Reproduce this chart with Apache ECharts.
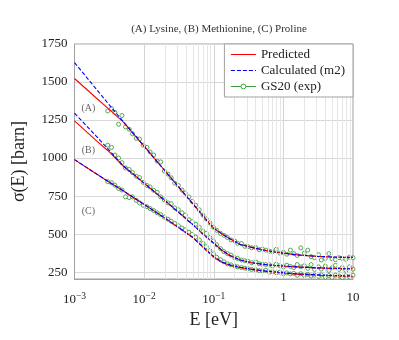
<!DOCTYPE html>
<html><head><meta charset="utf-8">
<script src="https://cdn.jsdelivr.net/npm/echarts@6/dist/echarts.min.js"></script>
<style>html,body{margin:0;padding:0;background:#fff}#c{width:399px;height:340px}</style>
</head><body><div id="c"></div>
<script>
const titleText = '(A) Lysine, (B) Methionine, (C) Proline';
const legendNames = ['Predicted', 'Calculated (m2)', 'GS20 (exp)'];
const curveLabels = ['(A)', '(B)', '(C)'];
const curveLabelPos = [[0.00158, 1328], [0.00158, 1048], [0.00158, 650]];
const yTicks = [250, 500, 750, 1000, 1250, 1500, 1750];
const xTicks = [0.001, 0.01, 0.1, 1, 10];
const xTickLabels = ['10{sup|−3}', '10{sup|−2}', '10{sup|−1}', '1', '10'];
const minorGrid = [0.002,0.003,0.004,0.005,0.006,0.007,0.008,0.009,
  0.02,0.03,0.04,0.05,0.06,0.07,0.08,0.09,
  0.2,0.3,0.4,0.5,0.6,0.7,0.8,0.9,
  2,3,4,5,6,7,8,9];
const majorGrid = [0.01, 0.1, 1];

// model curves
const lineE = [0.001,0.002,0.003,0.005,0.01,0.02,0.05,0.07,0.1,0.13,0.17,0.24,0.35,0.5,0.75,1,1.5,2,3,5,7,10];
const calcA = [1628,1460,1362,1240,1078,915,700,620,538,503,470,432,413,397,383,375,365,360,354,350,348,347];
const predA = [1523,1400,1328,1238,1078,915,700,620,538,503,470,432,413,397,383,375,365,360,354,350,348,347];
const calcB = [1295,1150,1062,950,835,720,562,500,440,395,360,330,312,302,294,290,285,282,278,275,273,272];
const predB = [1245,1120,1050,948,835,720,562,500,440,395,360,330,312,302,294,290,285,282,278,275,273,272];
const calcC = [990,900,848,785,695,605,478,415,352,318,298,282,270,260,252,247,240,237,233,229,227,226];
const predC = [990,900,848,785,695,605,478,413,348,315,296,280,268,258,250,244,237,234,230,226,224,223];

// experimental points
const expE = [0.0030,0.0034,0.0038,0.0043,0.0048,0.0054,0.0061,0.0068,0.0077,0.0086,0.0097,0.011,0.0122,0.0137,0.0154,0.0173,0.0195,0.022,0.0245,0.0275,0.031,0.035,0.039,0.044,0.049,0.055,0.062,0.07,0.078,0.088,0.099,0.11,0.125,0.14,0.157,0.177,0.2,0.22,0.25,0.28,0.31,0.35,0.4,0.45,0.5,0.56,0.63,0.7,0.79,0.89,1.0,1.12,1.26,1.41,1.58,1.78,2.0,2.24,2.5,2.8,3.2,3.5,4.0,4.5,5.0,5.6,6.3,7.0,7.9,8.9,10];
const expA = [1310,1325,1300,1222,1280,1205,1190,1160,1130,1125,1085,1070,1040,1020,980,975,915,895,870,835,820,790,770,745,715,690,660,625,600,575,545,525,505,492,478,462,455,440,438,420,418,410,412,398,402,395,388,385,400,375,380,368,395,372,360,410,375,395,352,345,365,330,340,372,338,332,345,340,335,348,345];
const expB = [1085,1070,1020,1000,970,935,925,905,880,872,840,820,810,788,775,745,725,705,700,672,660,640,625,595,582,565,545,520,505,478,455,430,405,385,372,362,345,340,330,325,322,312,318,305,302,300,298,290,302,292,285,296,288,280,300,285,292,275,300,268,285,270,290,262,278,295,268,280,262,285,270];
const expC = [845,838,822,800,790,745,740,745,722,705,690,680,668,655,640,628,612,598,585,570,555,540,528,512,498,480,462,440,418,392,370,348,332,318,305,298,290,285,280,276,272,268,265,260,258,262,250,252,245,250,240,245,238,242,230,240,228,235,225,230,222,232,218,228,215,230,225,215,228,220,230];

const RED = '#ff0000', BLUE = '#0000ff', GREEN = '#3f9f3f';
const FONT = 'Liberation Serif';

const zip = (xs, ys) => xs.map((x, i) => [x, ys[i]]);
const sets = [
  {pred: predA, calc: calcA, exp: expA},
  {pred: predB, calc: calcB, exp: expB},
  {pred: predC, calc: calcC, exp: expC}
];

const series = [];
series.push({
  type: 'line', data: [], silent: true, symbol: 'none', z: 0,
  markLine: {
    silent: true, symbol: 'none', label: {show: false}, animation: false,
    lineStyle: {color: '#e6e6e6', width: 1, type: 'solid'},
    data: minorGrid.map(v => ({xAxis: v}))
  }
});
series.push({
  type: 'line', data: [], silent: true, symbol: 'none', z: 0,
  markLine: {
    silent: true, symbol: 'none', label: {show: false}, animation: false,
    lineStyle: {color: '#d4d4d4', width: 1, type: 'solid'},
    data: majorGrid.map(v => ({xAxis: v}))
  }
});

sets.forEach((s, i) => {
  series.push({
    name: legendNames[2], type: 'line', data: zip(expE, s.exp),
    symbol: 'circle', symbolSize: 4, showSymbol: true,
    itemStyle: {color: '#ffffff', borderColor: GREEN, borderWidth: 0.9},
    lineStyle: {width: 0, opacity: 0}, z: 2, animation: false
  });
});
sets.forEach((s, i) => {
  series.push({
    name: legendNames[0], type: 'line', data: zip(lineE, s.pred),
    symbol: 'none', lineStyle: {color: RED, width: 1.1}, itemStyle: {color: RED}, z: 3, animation: false,
    markPoint: {
      symbol: 'circle', symbolSize: 0, animation: false,
      label: {show: true, formatter: curveLabels[i], color: '#666', fontFamily: FONT, fontSize: 10, position: 'inside'},
      data: [{coord: curveLabelPos[i]}]
    }
  });
  series.push({
    name: legendNames[1], type: 'line', data: zip(lineE, s.calc),
    symbol: 'none', lineStyle: {color: BLUE, width: 1.1, type: [4, 2]}, itemStyle: {color: BLUE}, z: 4, animation: false
  });
});

const chart = echarts.init(document.getElementById('c'), null, {renderer: 'canvas'});
chart.setOption({
  animation: false,
  backgroundColor: '#ffffff',
  title: {
    text: titleText, left: 214, top: 19, textAlign: 'center',
    textStyle: {fontFamily: FONT, fontSize: 11, fontWeight: 'normal', color: '#333'}
  },
  grid: {left: 74.5, right: 46, top: 44, bottom: 61, show: true, borderColor: '#a0a0a0', borderWidth: 1, containLabel: false},
  legend: {
    orient: 'vertical', right: 46, top: 44, z: 20,
    backgroundColor: '#fff', borderColor: '#a0a0a0', borderWidth: 1,
    padding: [4, 8, 4, 6], itemGap: 3, itemWidth: 25, itemHeight: 6,
    textStyle: {fontFamily: FONT, fontSize: 13, color: '#222'},
    data: [
      {name: legendNames[0], itemStyle: {opacity: 0}, lineStyle: {color: RED, width: 1, opacity: 1}},
      {name: legendNames[1], itemStyle: {opacity: 0}, lineStyle: {color: BLUE, width: 1, type: 'dashed', opacity: 1}},
      {name: legendNames[2], itemStyle: {color: '#fff', borderColor: GREEN, borderWidth: 1}, lineStyle: {color: GREEN, width: 1, opacity: 1}}
    ]
  },
  xAxis: {
    type: 'log', logBase: 10, min: 0.001, max: 10,
    name: 'E [eV]', nameLocation: 'middle', nameGap: 30,
    nameTextStyle: {fontFamily: FONT, fontSize: 18, color: '#222'},
    axisLine: {show: true, lineStyle: {color: '#a0a0a0'}},
    axisTick: {show: false},
    splitLine: {show: false},
    axisLabel: {
      margin: 12, fontFamily: FONT, fontSize: 13, color: '#222',
      formatter: v => {
        const k = xTicks.findIndex(t => Math.abs(Math.log10(t) - Math.log10(v)) < 1e-6);
        return k >= 0 ? xTickLabels[k] : '';
      },
      rich: {sup: {fontFamily: FONT, fontSize: 9.5, verticalAlign: 'top', padding: [0, 0, 8, 0], color: '#222'}}
    }
  },
  yAxis: {
    type: 'value', min: 205, max: 1750,
    name: 'σ(E) [barn]', nameLocation: 'middle', nameGap: 46,
    nameTextStyle: {fontFamily: FONT, fontSize: 18, color: '#222', fontStyle: 'normal'},
    axisLine: {show: true, lineStyle: {color: '#a0a0a0'}},
    axisTick: {show: false, customValues: yTicks},
    axisLabel: {margin: 7, fontFamily: FONT, fontSize: 13, color: '#222', customValues: yTicks, formatter: v => String(v)},
    splitLine: {show: true, lineStyle: {color: '#d8d8d8', width: 1}}
  },
  series: series
});
</script>
</body></html>
